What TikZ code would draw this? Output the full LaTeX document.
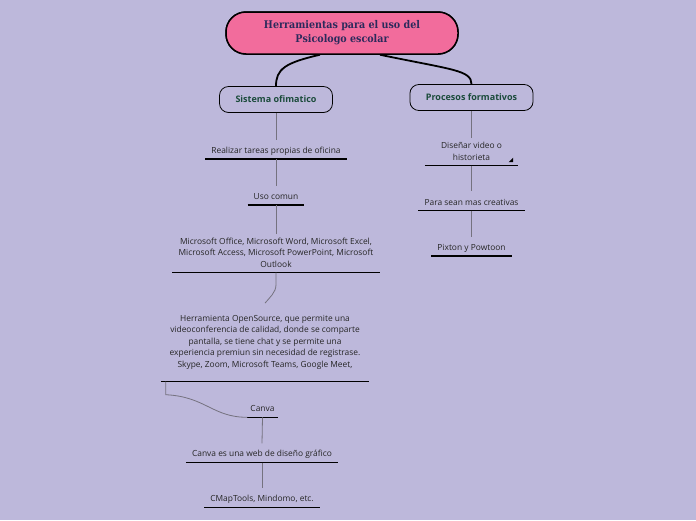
\documentclass[tikz,border=0pt]{standalone}
\usepackage{fontspec}
\usepackage{xcolor}
\setmainfont{Open Sans}
\newfontfamily\titlefont{DejaVu Serif Condensed}
\usetikzlibrary{positioning}

\definecolor{bglilac}{HTML}{BDB8DB}
\definecolor{rootpink}{HTML}{F26C9C}
\definecolor{rootink}{HTML}{2C2A5C}
\definecolor{branchink}{HTML}{1B4B3B}
\definecolor{stemgray}{HTML}{75727F}

\begin{document}
\begin{tikzpicture}[x = 1pt, y = 1pt,
    root/.style   = {draw, line width = 1.5pt, fill = rootpink, rounded corners = 20pt,
                     minimum width = 232pt, minimum height = 42pt, align = center,
                     text = rootink, font = \titlefont\bfseries\fontsize{10.6}{14}\selectfont},
    branch/.style = {draw, line width = 0.8pt, fill = bglilac, rounded corners = 9pt,
                     inner xsep = 16pt, minimum height = 26pt, text = branchink,
                     font = \bfseries\fontsize{9}{10}\selectfont},
    leaf/.style   = {anchor = south, align = center, inner xsep = 6pt, inner ysep = 3.5pt,
                     text = black!85, font = \fontsize{8.4}{11.5}\selectfont,
                     execute at begin node = {\rule{0pt}{10pt}},
                     execute at end node = {\rule[-2pt]{0pt}{0pt}},
                     append after command = {(\tikzlastnode.south west) edge[uline] (\tikzlastnode.south east)}},
    uline/.style  = {draw, line width = 1.2pt},
    stem/.style   = {draw = stemgray, line width = 0.8pt},
    trunk/.style  = {draw, line width = 1.8pt}]

    \useasboundingbox[fill = bglilac] (0,0) rectangle (696,-520);

    \node[root]   (root)     at (342,-33)    {Herramientas para el uso del\\Psicologo escolar};
    \node[branch] (sistema)  at (276,-99.5)  {Sistema ofimatico};
    \node[branch] (procesos) at (471.5,-97.5) {Procesos formativos};

    \draw[trunk] ([xshift = -22pt]root.south) .. controls +(-35,-8) and +(0,17) .. (sistema.north);
    \draw[trunk] ([xshift = 38pt]root.south)  .. controls +(72,-15) and +(0,14) .. (procesos.north);
    \node[root] at (root) {Herramientas para el uso del\\Psicologo escolar};

    \node[leaf] (tareas)   at (276,-159)   {Realizar tareas propias de oficina};
    \node[leaf] (uso)      at (276,-205)   {Uso comun};
    \node[leaf] (office)   at (276,-272.7) {Microsoft Office, Microsoft Word, Microsoft Excel,\\
                                            Microsoft Access, Microsoft PowerPoint, Microsoft\\Outlook};
    \node[leaf, inner ysep = 12pt, minimum width = 208pt]
                (opensrc)  at (265,-381.7) {Herramienta OpenSource, que permite una\\
                                            videoconferencia de calidad, donde se comparte\\
                                            pantalla, se tiene chat y se permite una\\
                                            experiencia premiun sin necesidad de registrase.\\
                                            Skype, Zoom, Microsoft Teams, Google Meet,};
    \node[leaf, inner xsep = 3pt]
                (canva)    at (262.5,-417.3) {Canva};
    \node[leaf] (webdis)   at (262,-462.7) {Canva es una web de diseño gráfico};
    \node[leaf] (cmap)     at (262,-507.7) {CMapTools, Mindomo, etc.};

    \node[leaf, minimum width = 93pt]
                (video)    at (471.5,-165.7) {Diseñar video o\\historieta};
    \node[leaf] (creativas) at (471.5,-210.7) {Para sean mas creativas};
    \node[leaf] (pixton)   at (471.5,-256)   {Pixton y Powtoon};

    \fill ([shift = {(-5pt,3.5pt)}]video.south east) -- ++(-4.5,0) -- ++(4.5,4.5) -- cycle;

    \draw[stem] (sistema.south) -- (tareas.north);
    \draw[stem] (tareas.south)  -- (uso.north);
    \draw[stem] (uso.south)     -- (office.north);
    \draw[stem] (office.south)  -- ++(0,-12) .. controls +(0,-8) and +(4,5) .. (opensrc.north);
    \draw[stem] ([xshift = 5pt]opensrc.south west) -- ++(0,-13)
                .. controls +(40,-2) and +(-35,0) .. (canva.south west);
    \draw[stem] (canva.south)   -- (webdis.north);
    \draw[stem] (webdis.south)  -- (cmap.north);

    \draw[stem] (procesos.south)  -- (video.north);
    \draw[stem] (video.south)     -- (creativas.north);
    \draw[stem] (creativas.south) -- (pixton.north);
\end{tikzpicture}
\end{document}
